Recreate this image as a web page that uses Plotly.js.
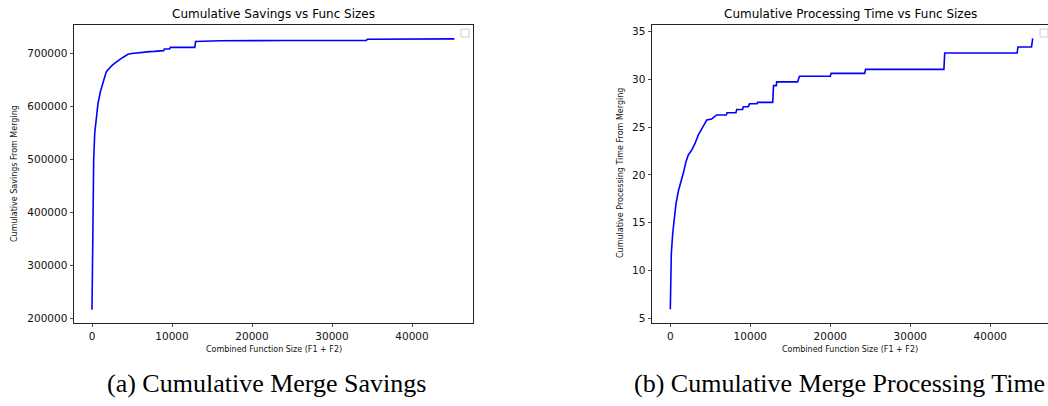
<!DOCTYPE html>
<html>
<head>
<meta charset="utf-8">
<script src="https://cdn.plot.ly/plotly-3.0.1.min.js"></script>
<style>html,body{margin:0;padding:0;background:#fff;}#chart{width:1048px;height:406px;}</style>
</head>
<body>
<div id="chart"></div>
<script>
// Cumulative savings vs combined function size
const savingsSize = [0, 40, 90, 125, 210, 340, 550, 750, 1050, 1250, 1460, 1650, 1800, 2100, 2420, 2700, 3050, 3350, 3670, 4000, 4250, 4500, 5000, 5750, 6500, 7200, 7800, 8460, 8950, 9050, 9700, 9800, 12850, 12950, 16000, 24500, 34300, 34400, 45300];
const savingsValue = [217000, 300000, 386000, 461000, 498000, 549000, 586000, 605000, 627000, 639000, 649000, 658000, 665000, 670500, 675500, 679000, 683500, 686500, 690000, 693000, 695500, 697500, 699000, 700600, 701300, 702500, 703000, 704400, 704400, 707500, 707500, 710500, 710500, 721500, 723000, 723500, 723800, 726000, 726500];

// Cumulative processing time vs combined function size
const timeSize = [0, 125, 300, 460, 710, 1000, 1300, 1625, 1960, 2250, 2670, 3090, 3500, 3920, 4250, 4550, 5170, 5375, 5790, 7000, 7100, 8200, 8300, 9040, 9125, 9750, 9900, 10850, 10900, 12800, 12900, 13250, 13300, 15900, 16000, 16150, 20000, 20100, 24300, 24400, 34200, 34300, 43350, 43450, 45150, 45300];
const timeValue = [5.95, 11.8, 13.9, 15.3, 17.0, 18.3, 19.1, 20.2, 21.4, 22.1, 22.6, 23.3, 24.2, 24.9, 25.3, 25.75, 25.85, 26.0, 26.28, 26.28, 26.52, 26.52, 26.85, 26.85, 27.15, 27.15, 27.45, 27.45, 27.6, 27.6, 29.35, 29.35, 29.75, 29.75, 30.1, 30.33, 30.33, 30.64, 30.64, 31.06, 31.06, 32.77, 32.77, 33.4, 33.4, 34.3];

const xTicks = [0, 10000, 20000, 30000, 40000];
const savingsTicks = [200000, 300000, 400000, 500000, 600000, 700000];
const timeTicks = [5, 10, 15, 20, 25, 30, 35];

const W = 1048, H = 406;
const px = v => v / W;
const py = v => 1 - v / H;

const traces = [
  {x: savingsSize, y: savingsValue, type: 'scatter', mode: 'lines', xaxis: 'x', yaxis: 'y',
   line: {color: '#0000ff', width: 1.6}, showlegend: false, hoverinfo: 'skip'},
  {x: timeSize, y: timeValue, type: 'scatter', mode: 'lines', xaxis: 'x2', yaxis: 'y2',
   line: {color: '#0000ff', width: 1.6}, showlegend: false, hoverinfo: 'skip'}
];

const tickFont = {family: 'DejaVu Sans', size: 10.5, color: '#111'};
const axBase = {showgrid: false, zeroline: false, showline: true, linecolor: '#222', linewidth: 1,
  ticks: 'outside', ticklen: 3.5, tickwidth: 0.8, tickcolor: '#222', tickfont: tickFont, fixedrange: true};

const layout = {
  width: W, height: H,
  margin: {l: 0, r: 0, t: 0, b: 0},
  paper_bgcolor: '#fff', plot_bgcolor: '#fff',
  showlegend: false,
  xaxis: Object.assign({}, axBase, {domain: [px(74), px(473)], range: [-2250, 47625], anchor: 'y',
    tickvals: xTicks, ticktext: xTicks.map(String), mirror: true}),
  yaxis: Object.assign({}, axBase, {domain: [py(322.5), py(25)], range: [192850, 752690], anchor: 'x',
    tickvals: savingsTicks, ticktext: savingsTicks.map(String), mirror: true}),
  xaxis2: Object.assign({}, axBase, {domain: [px(652), 1], range: [-2290, 47212], anchor: 'y2',
    tickvals: xTicks, ticktext: xTicks.map(String), mirror: true}),
  yaxis2: Object.assign({}, axBase, {domain: [py(322.5), py(25)], range: [4.56, 35.70], anchor: 'x2',
    tickvals: timeTicks, ticktext: timeTicks.map(String), mirror: false}),
  shapes: [
    {type: 'rect', xref: 'paper', yref: 'paper', x0: px(461), x1: px(469), y0: py(37), y1: py(29),
     line: {color: '#cccccc', width: 1}, fillcolor: '#ffffff'},
    {type: 'rect', xref: 'paper', yref: 'paper', x0: px(1040), x1: px(1048), y0: py(37), y1: py(29),
     line: {color: '#cccccc', width: 1}, fillcolor: '#ffffff'}
  ],
  annotations: [
    {text: 'Cumulative Savings vs Func Sizes', xref: 'paper', yref: 'paper', x: px(273.5), y: py(14),
     xanchor: 'center', yanchor: 'middle', showarrow: false, font: {family: 'DejaVu Sans', size: 12, color: '#000'}},
    {text: 'Cumulative Processing Time vs Func Sizes', xref: 'paper', yref: 'paper', x: px(850.5), y: py(14),
     xanchor: 'center', yanchor: 'middle', showarrow: false, font: {family: 'DejaVu Sans', size: 12, color: '#000'}},
    {text: 'Combined Function Size (F1 + F2)', xref: 'paper', yref: 'paper', x: px(273.5), y: py(349.5),
     xanchor: 'center', yanchor: 'middle', showarrow: false, font: {family: 'DejaVu Sans', size: 8, color: '#111'}},
    {text: 'Combined Function Size (F1 + F2)', xref: 'paper', yref: 'paper', x: px(850), y: py(349.5),
     xanchor: 'center', yanchor: 'middle', showarrow: false, font: {family: 'DejaVu Sans', size: 8, color: '#111'}},
    {text: 'Cumulative Savings From Merging', xref: 'paper', yref: 'paper', x: px(14.5), y: py(173.5),
     xanchor: 'center', yanchor: 'middle', textangle: -90, showarrow: false, font: {family: 'DejaVu Sans', size: 8, color: '#111'}},
    {text: 'Cumulative Processing Time From Merging', xref: 'paper', yref: 'paper', x: px(620.5), y: py(173.5),
     xanchor: 'center', yanchor: 'middle', textangle: -90, showarrow: false, font: {family: 'DejaVu Sans', size: 8, color: '#111'}},
    {text: '(a) Cumulative Merge Savings', xref: 'paper', yref: 'paper', x: px(266.5), y: py(383.5),
     xanchor: 'center', yanchor: 'middle', showarrow: false, font: {family: 'Liberation Serif', size: 26, color: '#000'}},
    {text: '(b) Cumulative Merge Processing Time', xref: 'paper', yref: 'paper', x: px(632), y: py(383.5),
     xanchor: 'left', yanchor: 'middle', showarrow: false, font: {family: 'Liberation Serif', size: 26, color: '#000'}}
  ]
};

Plotly.newPlot('chart', traces, layout, {displayModeBar: false, staticPlot: true});
</script>
</body>
</html>
